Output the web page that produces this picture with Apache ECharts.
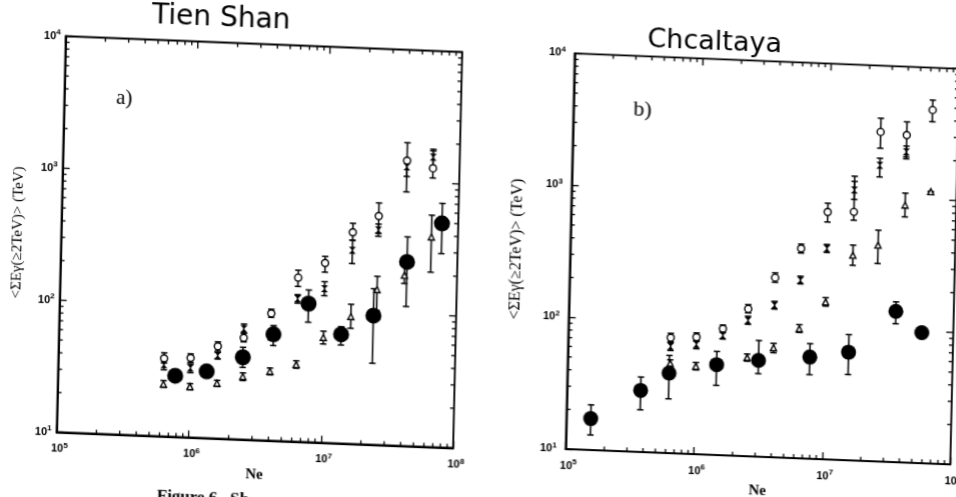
<!DOCTYPE html>
<html>
<head>
<meta charset="utf-8">
<title>Tien Shan / Chcaltaya</title>
<script src="https://cdn.jsdelivr.net/npm/echarts@6/dist/echarts.min.js"></script>
<style>
html,body{margin:0;padding:0;background:#fff;overflow:hidden;width:956px;height:497px;}
/* the scan is slightly skewed, so the whole chart is sheared a little */
#main{position:absolute;left:0;top:0;width:1000px;height:560px;transform-origin:0 0;transform:matrix(1,0.04,-0.023,1,0.46,-20);}
</style>
</head>
<body>
<div id="main"></div>
<script>
// ---- a) Tien Shan ----
var tsNe = [6.3e5, 1.0e6, 1.6e6, 2.5e6, 4.0e6, 6.3e6, 1.0e7, 1.6e7, 2.5e7, 4.0e7, 6.3e7];
var tsCirc   = [39, 40, 50, 59, 92, 175, 230, 400, 540, 1450, 1290];
var tsCircLo = [36, 37, 46, 55, 86, 150, 196, 350, 400, 840, 1090];
var tsCircHi = [43, 43, 54, 64, 99, 199, 258, 468, 680, 1980, 1800];
var tsCross   = [35, 33.6, 42.5, 69, 62, 121, 147, 292, 423, 1300, 1570];
var tsCrossLo = [32, 31, 40, 64, 58, 112, 130, 232, 380, 1100, 1350];
var tsCrossHi = [38, 36, 45, 75, 66, 130, 166, 348, 470, 1450, 1750];
var tsTri   = [24.9, 24.3, 26.2, 30, 33.5, 38.4, 62.7, 92, 150, 196, 390];
var tsTriLo = [23.5, 23, 24.8, 28, 31.5, 36, 56, 75, 104, 170, 211];
var tsTriHi = [26.5, 25.6, 27.6, 32, 35.5, 41, 70, 114, 189, 230, 570];
var tsDotNe = [7.7e5, 1.33e6, 2.48e6, 4.19e6, 7.62e6, 1.36e7, 2.37e7, 4.16e7, 7.53e7];
var tsDot   = [29, 32, 42, 64, 112, 67, 95, 248, 497];
var tsDotLo = [27, 30, 35.2, 52.6, 81, 55.7, 41.4, 114, 294];
var tsDotHi = [31, 34, 50, 74.5, 142, 76.7, 152, 384, 705];

// ---- b) Chcaltaya ----
var chNe = [6.3e5, 1.0e6, 1.6e6, 2.5e6, 4.0e6, 6.3e6, 1.0e7, 1.6e7, 2.5e7, 4.0e7, 6.3e7];
var chCirc   = [75, 77, 91, 131, 230, 389, 750, 764, 3140, 3025, 4775];
var chCircLo = [70, 72, 85, 122, 212, 360, 629, 661, 2365, 2070, 3890];
var chCircHi = [81, 83, 97, 141, 250, 420, 873, 1425, 3990, 3815, 5680];
var chCrossNe = [6.3e5, 1.0e6, 1.6e6, 2.5e6, 4.0e6, 6.3e6, 1.0e7, 1.6e7, 2.5e7, 4.0e7];
var chCross   = [64.6, 68, 81, 107, 142, 224, 396, 1117, 1758, 2261];
var chCrossLo = [60, 63, 76, 100, 133, 210, 370, 950, 1432, 2000];
var chCrossHi = [69, 73, 87, 115, 152, 240, 425, 1300, 1985, 2500];
var chTriNe = [6.3e5, 1.0e6, 2.5e6, 4.0e6, 6.3e6, 1.0e7, 1.6e7, 2.5e7, 4.0e7, 6.3e7];
var chTri   = [48, 46.4, 56, 67.7, 96, 156, 359, 435, 891, 1146];
var chTriLo = [45, 43.5, 52.5, 62, 90, 145, 301, 316, 726, 1146];
var chTriHi = [51, 49.5, 59.5, 73, 103, 168, 428, 565, 1099, 1146];
var chDotNe = [1.55e5, 3.75e5, 6.2e5, 1.45e6, 3.07e6, 7.7e6, 1.54e7, 3.54e7, 5.69e7];
var chDot   = [17.3, 29.3, 40.4, 48.4, 53.7, 59, 66, 139, 97.5];
var chDotLo = [13, 20.9, 25.8, 33.7, 42.6, 43.4, 44.6, 112, 97.5];
var chDotHi = [22, 37, 55, 61, 76, 74.6, 89.6, 164, 97.5];

// axis ticks
var xMajor = [1e5, 1e6, 1e7, 1e8];
var yMajor = [1e1, 1e2, 1e3, 1e4];
var mant = [2, 3, 4, 5, 6, 7, 8, 9];
var xMinor = [], yMinor = [];
for (var k = 0; k < 3; k++) {
	for (var m = 0; m < mant.length; m++) {
		xMinor.push(mant[m] * xMajor[k]);
		yMinor.push(mant[m] * yMajor[k]);
	}
}
var yName = '<ΣEγ(≥2TeV)> (TeV)';

var myChart;
window.onresize = function () {
	if (myChart) myChart.resize();
};

function pts(ne, v) {
	var d = [];
	for (var i = 0; i < ne.length; i++) d.push([ne[i], v[i]]);
	return d;
}

function powLabel(v) {
	return '{b|10}{s|' + Math.round(Math.log(v) / Math.LN10) + '}';
}

var labelRich = {
	b: {fontSize: 11, fontWeight: 'bold', fontFamily: 'Liberation Sans', color: '#000'},
	s: {fontSize: 8, fontWeight: 'bold', fontFamily: 'Liberation Sans', color: '#000', padding: [0, 0, 7, 0]}
};

// vertical error bars with small caps
function errSeries(g, ne, lo, hi) {
	var d = [];
	for (var i = 0; i < ne.length; i++) d.push([ne[i], lo[i], hi[i]]);
	return {
		type: 'custom', xAxisIndex: g, yAxisIndex: g, data: d, silent: true, z: 2, clip: false,
		encode: {x: 0, y: [1, 2]},
		renderItem: function (params, api) {
			var x = api.value(0);
			var a = api.coord([x, api.value(1)]);
			var b = api.coord([x, api.value(2)]);
			var w = 3.2, st = {stroke: '#000', lineWidth: 1.5};
			return {type: 'group', children: [
				{type: 'line', shape: {x1: a[0], y1: a[1], x2: b[0], y2: b[1]}, style: st},
				{type: 'line', shape: {x1: a[0] - w, y1: a[1], x2: a[0] + w, y2: a[1]}, style: st},
				{type: 'line', shape: {x1: b[0] - w, y1: b[1], x2: b[0] + w, y2: b[1]}, style: st}
			]};
		}
	};
}

// ticks on the frame (top/right majors and all minors)
function tickX(g, vals, len, both) {
	return {
		type: 'custom', xAxisIndex: g, yAxisIndex: g, silent: true, clip: false, z: 1,
		data: vals.map(function (v) { return [v, 10]; }),
		encode: {x: 0, y: 1},
		renderItem: function (params, api) {
			var x = api.value(0);
			var b = api.coord([x, 1e1]), t = api.coord([x, 1e4]);
			var st = {stroke: '#000', lineWidth: 1.3};
			var ch = [{type: 'line', shape: {x1: t[0], y1: t[1], x2: t[0], y2: t[1] + len}, style: st}];
			if (both) ch.push({type: 'line', shape: {x1: b[0], y1: b[1], x2: b[0], y2: b[1] - len}, style: st});
			return {type: 'group', children: ch};
		}
	};
}
function tickY(g, vals, len, both) {
	return {
		type: 'custom', xAxisIndex: g, yAxisIndex: g, silent: true, clip: false, z: 1,
		data: vals.map(function (v) { return [1e5, v]; }),
		encode: {x: 0, y: 1},
		renderItem: function (params, api) {
			var y = api.value(1);
			var l = api.coord([1e5, y]), r = api.coord([1e8, y]);
			var st = {stroke: '#000', lineWidth: 1.3};
			var ch = [{type: 'line', shape: {x1: r[0], y1: r[1], x2: r[0] - len, y2: r[1]}, style: st}];
			if (both) ch.push({type: 'line', shape: {x1: l[0], y1: l[1], x2: l[0] + len, y2: l[1]}, style: st});
			return {type: 'group', children: ch};
		}
	};
}

function markSeries(g, type, ne, v) {
	var s = {type: 'scatter', xAxisIndex: g, yAxisIndex: g, data: pts(ne, v), z: 3, silent: true, clip: false};
	if (type == 'circ') {
		s.symbol = 'circle'; s.symbolSize = 7;
		s.itemStyle = {color: '#fff', borderColor: '#000', borderWidth: 1.4, opacity: 1};
	} else if (type == 'cross') {
		s.symbol = 'path://M0,0L10,0L0,10L10,10Z'; s.symbolSize = [7, 7];
		s.itemStyle = {color: '#000', opacity: 1};
	} else if (type == 'tri') {
		s.symbol = 'triangle'; s.symbolSize = 6;
		s.itemStyle = {color: '#fff', borderColor: '#000', borderWidth: 1.4, opacity: 1};
	} else {
		s.symbol = 'circle'; s.symbolSize = g == 0 ? 16 : 15; s.z = 4;
		s.itemStyle = {color: '#000', opacity: 1};
	}
	return s;
}

function xAx(g, gap) {
	return {
		type: 'log', logBase: 10, gridIndex: g, min: 1e5, max: 1e8,
		axisLine: {show: true, lineStyle: {color: '#000', width: 1.8}},
		axisTick: {show: true, inside: true, length: 7, lineStyle: {color: '#000', width: 1.3}},
		splitLine: {show: false},
		axisLabel: {margin: 9, formatter: powLabel, rich: labelRich, showMinLabel: true, showMaxLabel: true, padding: [0, 0, 0, 6]},
		name: 'Ne', nameLocation: 'middle', nameGap: gap,
		nameTextStyle: {fontFamily: 'Liberation Serif', fontSize: 15, fontWeight: 'bold', color: '#000'}
	};
}
function yAx(g, margin, gap, fs) {
	return {
		type: 'log', logBase: 10, gridIndex: g, min: 1e1, max: 1e4,
		axisLine: {show: true, lineStyle: {color: '#000', width: 1.8}},
		axisTick: {show: true, inside: true, length: 7, lineStyle: {color: '#000', width: 1.3}},
		splitLine: {show: false},
		axisLabel: {margin: margin, formatter: powLabel, rich: labelRich, showMinLabel: true, showMaxLabel: true},
		name: yName, nameLocation: 'middle', nameGap: gap,
		nameTextStyle: {fontFamily: 'Liberation Serif', fontSize: fs, color: '#000'}
	};
}

var series = [];
[0, 1].forEach(function (g) {
	series.push(tickX(g, xMajor, 7, false), tickY(g, yMajor, 7, false), tickX(g, xMinor, 4, true), tickY(g, yMinor, 4, true));
});
series.push(
	errSeries(0, tsNe, tsCircLo, tsCircHi), errSeries(0, tsNe, tsCrossLo, tsCrossHi),
	errSeries(0, tsNe, tsTriLo, tsTriHi), errSeries(0, tsDotNe, tsDotLo, tsDotHi),
	markSeries(0, 'circ', tsNe, tsCirc), markSeries(0, 'cross', tsNe, tsCross),
	markSeries(0, 'tri', tsNe, tsTri), markSeries(0, 'dot', tsDotNe, tsDot),
	errSeries(1, chNe, chCircLo, chCircHi), errSeries(1, chCrossNe, chCrossLo, chCrossHi),
	errSeries(1, chTriNe, chTriLo, chTriHi), errSeries(1, chDotNe, chDotLo, chDotHi),
	markSeries(1, 'circ', chNe, chCirc), markSeries(1, 'cross', chCrossNe, chCross),
	markSeries(1, 'tri', chTriNe, chTri), markSeries(1, 'dot', chDotNe, chDot)
);

var option = {
	animation: false,
	backgroundColor: '#fff',
	grid: [
		{left: 66.5, top: 53.5, width: 396.5, height: 396, show: true, borderColor: '#000', borderWidth: 1.8, backgroundColor: 'transparent'},
		{left: 575.4, top: 50.3, width: 384.6, height: 395.7, show: true, borderColor: '#000', borderWidth: 1.8, backgroundColor: 'transparent'}
	],
	xAxis: [xAx(0, 19), xAx(1, 24)],
	yAxis: [yAx(0, 5, 36, 15), yAx(1, 9, 46, 16)],
	graphic: [
		{type: 'text', x: 221.4, y: 29.7, style: {text: 'Tien Shan', fontFamily: 'DejaVu Sans', fontSize: 28, fill: '#000', align: 'center', verticalAlign: 'middle'}},
		{type: 'text', x: 715, y: 34.4, style: {text: 'Chcaltaya', fontFamily: 'DejaVu Sans', fontSize: 27, fill: '#000', align: 'center', verticalAlign: 'middle'}},
		{type: 'text', x: 126.3, y: 113, style: {text: 'a)', fontFamily: 'Liberation Serif', fontSize: 21, fill: '#000', align: 'center', verticalAlign: 'middle'}},
		{type: 'text', x: 644.5, y: 104.3, style: {text: 'b)', fontFamily: 'Liberation Serif', fontSize: 22, fill: '#000', align: 'center', verticalAlign: 'middle'}},
		{type: 'text', x: 168, y: 501, style: {text: 'Figure 6.  Sh', fontFamily: 'Liberation Serif', fontSize: 17, fontWeight: 'bold', fill: '#000', align: 'left', verticalAlign: 'top'}}
	],
	series: series
};

myChart = echarts.init(document.getElementById('main'));
myChart.setOption(option);
</script>
</body>
</html>
